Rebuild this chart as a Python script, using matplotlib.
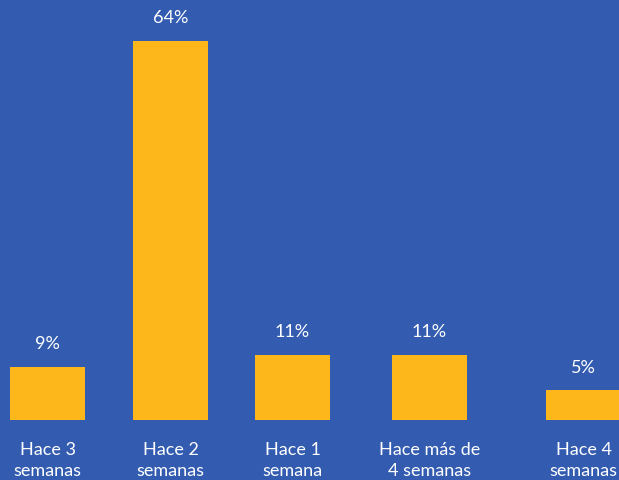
import matplotlib.pyplot as plt

categories = ["Hace 3\nsemanas", "Hace 2\nsemanas", "Hace 1\nsemana",
              "Hace más de\n4 semanas", "Hace 4\nsemanas"]
values = [9, 64, 11, 11, 5]
labels = ["9%", "64%", "11%", "11%", "5%"]

# irregular bar centres, in pixel-like units across the 619 px width
positions = [47.5, 170.5, 292.5, 429.5, 583.5]
bar_width = 75

bg = "#335CB1"
bar_color = "#FDB71A"

plt.rcParams['font.family'] = ['Lato', 'DejaVu Sans']

fig = plt.figure(figsize=(6.19, 4.8), dpi=100, facecolor=bg)
ax = fig.add_axes([0, 0, 1, 1])
ax.set_facecolor(bg)

bars = ax.bar(positions, values, width=bar_width, color=bar_color)

ax.set_xlim(0, 619)
ax.set_ylim(-60 / 5.92, 64 + 41 / 5.92)
ax.axis('off')

for b, lab in zip(bars, labels):
    ax.annotate(lab, (b.get_x() + b.get_width() / 2, b.get_height()),
                xytext=(0, 10.5), textcoords='offset points',
                ha='center', va='bottom', color='white', fontsize=13)

for x, cat in zip(positions, categories):
    ax.annotate(cat, (x, 0), xytext=(0, -15.5), textcoords='offset points',
                ha='center', va='top', color='white', fontsize=13,
                linespacing=1.4)

fig.savefig("out.png", dpi=100, facecolor=bg)
